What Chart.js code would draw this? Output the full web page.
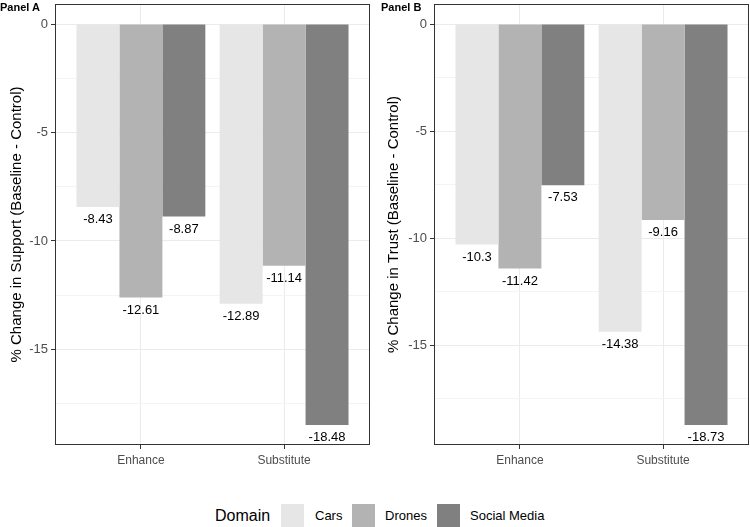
<!DOCTYPE html>
<html>
<head>
<meta charset="utf-8">
<script src="https://cdn.jsdelivr.net/npm/chart.js@4.4.1/dist/chart.umd.min.js"></script>
<style>
  body { margin: 0; background: #fff; font-family: "Liberation Sans", Arial, sans-serif; }
  #wrap { position: relative; width: 750px; height: 527px; overflow: hidden; }
  canvas { position: absolute; top: 0; }
  .tag { position: absolute; top: 0; font-size: 11px; font-weight: bold; color: #000; line-height: 14px; }
  .legend-title { position: absolute; left: 215px; top: 506px; font-size: 16px; line-height: 20px; color: #000; }
  .key { position: absolute; top: 504px; width: 23px; height: 23px; }
  .key-label { position: absolute; top: 508px; font-size: 13px; line-height: 15px; color: #000; }
</style>
</head>
<body>
<div id="wrap">
  <canvas id="panelA" width="375" height="470" style="left:0"></canvas>
  <canvas id="panelB" width="375" height="470" style="left:375px"></canvas>
  <div class="tag" style="left:0">Panel A</div>
  <div class="tag" style="left:381px">Panel B</div>
  <div id="legend"></div>
</div>
<script>
// 資料
const categories = ["Enhance", "Substitute"];
const domains = ["Cars", "Drones", "Social Media"];
const domainColors = ["#e6e6e6", "#b3b3b3", "#808080"];

// Panel A: support
const supportCars = [-8.43, -12.89];
const supportDrones = [-12.61, -11.14];
const supportSocial = [-8.87, -18.48];

// Panel B: trust
const trustCars = [-10.3, -14.38];
const trustDrones = [-11.42, -9.16];
const trustSocial = [-7.53, -18.73];

// y 軸格線 (主要 = 5 的倍數, 其餘為次要)
const yGridValues = [-17.5, -15, -12.5, -10, -7.5, -5, -2.5, 0];

Chart.defaults.font.family = '"Liberation Sans", Arial, sans-serif';

const isMajor = v => Math.abs(v % 5) < 1e-9;

// 外框
const panelBorder = {
  id: 'panelBorder',
  afterDraw(chart) {
    const { ctx, chartArea: a } = chart;
    ctx.save();
    ctx.strokeStyle = '#333333';
    ctx.lineWidth = 1;
    ctx.strokeRect(a.left + 0.5, a.top + 0.5, a.right - a.left - 1, a.bottom - a.top - 1);
    ctx.restore();
  }
};

// 長條下方的數值
const barLabels = {
  id: 'barLabels',
  afterDatasetsDraw(chart) {
    const ctx = chart.ctx;
    ctx.save();
    ctx.font = '13px "Liberation Sans", Arial, sans-serif';
    ctx.fillStyle = '#000';
    ctx.textAlign = 'center';
    ctx.textBaseline = 'middle';
    chart.data.datasets.forEach((ds, i) => {
      chart.getDatasetMeta(i).data.forEach((bar, j) => {
        ctx.fillText(String(ds.data[j].y), bar.x, bar.y + 12.5);
      });
    });
    ctx.restore();
  }
};

/*
 * [分組長條圖] (canvas ID, 三組數值, y 軸標題, y 軸寬度, 標題間距, 右側間距) : null
 */
function groupedChart(elementId, seriesList, yTitle, yWidth, titlePad, rightPad) {
  const datasets = seriesList.map((values, k) => ({
    label: domains[k],
    backgroundColor: domainColors[k],
    borderWidth: 0,
    categoryPercentage: 0.9,
    barPercentage: 1.0,
    data: values.map((v, i) => ({ x: i + 1, y: v }))
  }));

  const lowest = Math.min(...seriesList.flat());
  const span = 0 - lowest;

  const ctx = document.getElementById(elementId).getContext('2d');
  new Chart(ctx, {
    type: 'bar',
    data: { datasets },
    options: {
      responsive: false,
      animation: false,
      layout: { padding: { top: 4, right: rightPad, bottom: 0, left: 0 } },
      plugins: {
        legend: { display: false },
        tooltip: { enabled: false }
      },
      scales: {
        x: {
          type: 'linear',
          min: 0.4,
          max: 2.6,
          offset: false,
          afterBuildTicks: s => { s.ticks = categories.map((c, i) => ({ value: i + 1 })); },
          afterFit: s => {
            s.height = 25;
            s.paddingLeft = 0;
            s.paddingRight = 0;
          },
          ticks: {
            callback: v => categories[v - 1],
            color: '#4d4d4d',
            font: { size: 12 },
            padding: 4,
            autoSkip: false,
            maxRotation: 0
          },
          grid: { color: '#ebebeb', tickColor: '#333333', tickLength: 4, offset: false },
          border: { display: false }
        },
        y: {
          min: lowest - span * 0.05,
          max: span * 0.05,
          afterBuildTicks: s => { s.ticks = yGridValues.map(v => ({ value: v })); },
          afterFit: s => {
            s.width = yWidth;
            s.paddingTop = 0;
            s.paddingBottom = 0;
          },
          ticks: {
            callback: v => (isMajor(v) ? String(v) : ''),
            color: '#4d4d4d',
            font: { size: 13 },
            padding: 3,
            autoSkip: false
          },
          grid: {
            color: c => (c.tick && isMajor(c.tick.value) ? '#ebebeb' : '#f4f4f4'),
            tickColor: c => (c.tick && isMajor(c.tick.value) ? '#333333' : 'rgba(0,0,0,0)'),
            tickLength: 4
          },
          border: { display: false },
          title: {
            display: true,
            text: yTitle,
            color: '#000',
            font: { size: 15 },
            padding: { top: titlePad, bottom: 0 }
          }
        }
      }
    },
    plugins: [barLabels, panelBorder]
  });
}

groupedChart('panelA', [supportCars, supportDrones, supportSocial],
  '% Change in Support (Baseline - Control)', 55, 8, 5);
groupedChart('panelB', [trustCars, trustDrones, trustSocial],
  '% Change in Trust (Baseline - Control)', 59, 10, 1);

// 圖例
const legend = document.getElementById('legend');
const keyLeft = [281, 352, 437];
const labelLeft = [315, 385, 470];
legend.innerHTML = '<div class="legend-title">Domain</div>' + domains.map((d, i) =>
  `<div class="key" style="left:${keyLeft[i]}px;background:${domainColors[i]}"></div>` +
  `<div class="key-label" style="left:${labelLeft[i]}px">${d}</div>`
).join('');
</script>
</body>
</html>
